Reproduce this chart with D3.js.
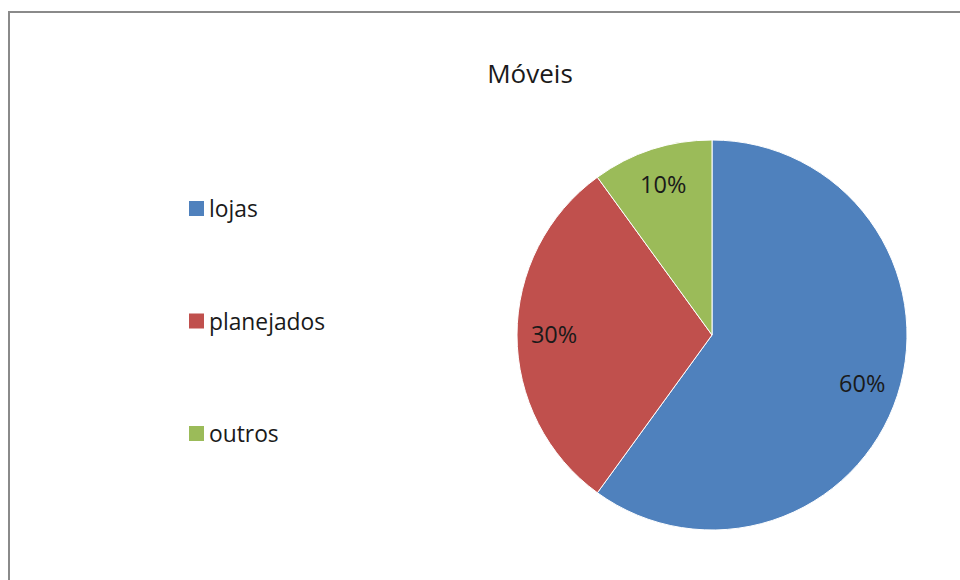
<!DOCTYPE html>
<html>
<head>
<meta charset="utf-8">
<script src="https://cdn.jsdelivr.net/npm/d3@7"></script>
<style>
  body { margin: 0; background: #fff; }
  svg { display: block; font-family: "Open Sans", sans-serif; }
</style>
</head>
<body>
<script>
const width = 960;
const height = 580;

const categories = ["lojas", "planejados", "outros"];
const values = [60, 30, 10];
const labels = ["60%", "30%", "10%"];
const colors = ["#4F81BD", "#C0504D", "#9BBB59"];

const cx = 712, cy = 335, r = 195;

const svg = d3.select(document.body).append("svg")
    .attr("width", width)
    .attr("height", height);

// chart border, runs off the right and bottom edge
svg.append("rect")
    .attr("x", 9).attr("y", 12)
    .attr("width", 1000).attr("height", 1000)
    .attr("fill", "#fff")
    .attr("stroke", "#8a8a8a")
    .attr("stroke-width", 2);

svg.append("text")
    .attr("x", 530).attr("y", 83)
    .attr("text-anchor", "middle")
    .attr("font-size", 26)
    .attr("fill", "#1a1a1a")
    .text("Móveis");

const pie = d3.pie().sort(null).value(d => d)(values);
const arc = d3.arc().innerRadius(0).outerRadius(r);
const labelArc = d3.arc().innerRadius(r * 0.81).outerRadius(r * 0.81);

const g = svg.append("g").attr("transform", "translate(" + cx + "," + cy + ")");

g.selectAll("path")
    .data(pie)
    .join("path")
    .attr("d", arc)
    .attr("fill", (d, i) => colors[i])
    .attr("stroke", "#fff")
    .attr("stroke-width", 1);

g.selectAll("text")
    .data(pie)
    .join("text")
    .attr("transform", d => "translate(" + labelArc.centroid(d) + ")")
    .attr("text-anchor", "middle")
    .attr("dy", "0.36em")
    .attr("font-size", 23.5)
    .attr("fill", "#1a1a1a")
    .text((d, i) => labels[i]);

// legend
const legendY = d3.scalePoint().domain(categories).range([217, 442]);

const lg = svg.append("g").selectAll("g")
    .data(categories)
    .join("g")
    .attr("transform", d => "translate(189," + legendY(d) + ")");

lg.append("rect")
    .attr("x", 0).attr("y", -16)
    .attr("width", 15).attr("height", 15)
    .attr("fill", (d, i) => colors[i]);

lg.append("text")
    .attr("x", 20)
    .attr("font-size", 22.8)
    .attr("fill", "#1a1a1a")
    .text(d => d);
</script>
</body>
</html>
